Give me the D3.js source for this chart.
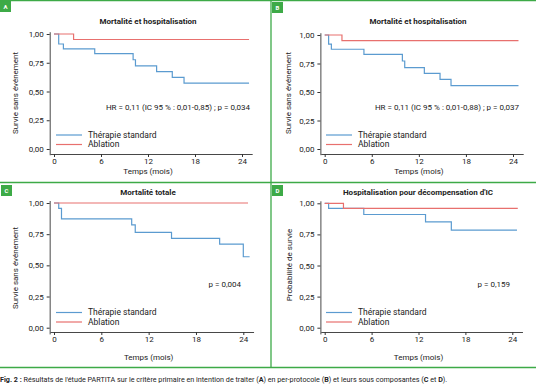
<!DOCTYPE html>
<html>
<head>
<meta charset="utf-8">
<script src="https://d3js.org/d3.v7.min.js"></script>
<style type="text/css">
  body { margin: 0; background: #fff; }
  svg text { font-family: "Liberation Sans Narrow", Roboto, sans-serif; fill: #222; }
  .tick text { font-size: 8px; }
  .tick line, .domain { stroke: #333; }
</style>
</head>
<body>
<svg id="fig" width="536" height="386"></svg>
<script>
// survival data (time in months, survival probability)
var months = [0, 6, 12, 18, 24];
var yTicks = [0, 0.25, 0.5, 0.75, 1];

var stdA_t = [0, 0.6, 1.2, 5.2, 10.1, 10.4, 13.1, 15.1, 16.6, 24.9];
var stdA_s = [1, 0.913, 0.870, 0.830, 0.776, 0.722, 0.672, 0.623, 0.572, 0.572];
var ablA_t = [0, 2.5, 24.9];
var ablA_s = [1, 0.952, 0.952];

var stdB_t = [0, 0.5, 0.85, 5.0, 9.9, 10.2, 12.7, 14.7, 16.1, 24.7];
var stdB_s = [1, 0.92, 0.875, 0.83, 0.772, 0.713, 0.664, 0.611, 0.556, 0.556];
var ablB_t = [0, 2.2, 24.7];
var ablB_s = [1, 0.95, 0.95];

var stdC_t = [0, 0.6, 0.95, 9.85, 10.3, 14.9, 21.0, 24.0, 24.8];
var stdC_s = [1, 0.957, 0.872, 0.824, 0.765, 0.717, 0.671, 0.569, 0.569];
var ablC_t = [0, 24.6];
var ablC_s = [1, 1];

var stdD_t = [0, 0.5, 5.0, 12.9, 16.2, 24.6];
var stdD_s = [1, 0.96, 0.91, 0.85, 0.784, 0.784];
var ablD_t = [0, 2.4, 24.7];
var ablD_s = [1, 0.96, 0.96];

var titles = ["Mortalité et hospitalisation", "Mortalité et hospitalisation",
              "Mortalité totale", "Hospitalisation pour décompensation d'IC"];
var yLabels = ["Survie sans événement", "Survie sans événement",
               "Survie sans événement", "Probabilité de survie"];
var stats = ["HR = 0,11 (IC 95 % : 0,01-0,85) ; p = 0,034",
             "HR = 0,11 (IC 95 % : 0,01-0,88) ; p = 0,037",
             "p = 0,004", "p = 0,159"];
var badges = ["A", "B", "C", "D"];
var seriesNames = ["Thérapie standard", "Ablation"];

var blue = "#5b9bd0", red = "#e8706e", green = "#3daa47";

// layout for each panel
var panels = [
  {x0: 54, x24: 242, y1: 34, y0: 149, xAxY: 154, tx: 148, ty: 24, ylx: 15, yly: 93, xly: 173.5,
   lx: 56, ly: 135, sx: 250, sy: 110, bx: 0, by: 1,
   std: [stdA_t, stdA_s], abl: [ablA_t, ablA_s]},
  {x0: 324.7, x24: 513, y1: 35, y0: 149, xAxY: 154, tx: 418, ty: 24, ylx: 288, yly: 93, xly: 173.5,
   lx: 326, ly: 135, sx: 519, sy: 110, bx: 272, by: 2,
   std: [stdB_t, stdB_s], abl: [ablB_t, ablB_s]},
  {x0: 54, x24: 243.3, y1: 203, y0: 327.7, xAxY: 332, tx: 148, ty: 195, ylx: 15, yly: 268, xly: 360,
   lx: 56, ly: 312.5, sx: 241, sy: 287, bx: 1, by: 185,
   std: [stdC_t, stdC_s], abl: [ablC_t, ablC_s]},
  {x0: 324.7, x24: 512.3, y1: 203.3, y0: 327.7, xAxY: 332, tx: 418, ty: 195, ylx: 289, yly: 265, xly: 360,
   lx: 326, ly: 312.5, sx: 510, sy: 287, bx: 272, by: 185,
   std: [stdD_t, stdD_s], abl: [ablD_t, ablD_s]}
];

var svg = d3.select("#fig");
var fmt = d3.format(".2f");

panels.forEach(function(p, i) {
  var g = svg.append("g");
  var xs = d3.scaleLinear().domain([0, 24]).range([p.x0, p.x24]);
  var ys = d3.scaleLinear().domain([0, 1]).range([p.y0, p.y1]);
  var xAx = d3.scaleLinear().domain([-0.5, 25.3]).range([xs(-0.5), xs(25.3)]);
  var yAx = d3.scaleLinear().domain([-0.05, 1.02]).range([ys(-0.05), ys(1.02)]);
  var yAxX = xs(-0.55);

  g.append("g").attr("transform", "translate(0," + p.xAxY + ")")
    .call(d3.axisBottom(xAx).tickValues(months).tickSize(3).tickSizeOuter(0).tickPadding(1));
  g.append("g").attr("transform", "translate(" + yAxX + ",0)")
    .call(d3.axisLeft(yAx).tickValues(yTicks).tickSize(3).tickSizeOuter(0).tickPadding(3)
      .tickFormat(function(d) { return fmt(d).replace(".", ","); }));
  g.selectAll(".domain").attr("stroke-width", 0.9);

  var line = d3.line().curve(d3.curveStepAfter)
    .x(function(d) { return xs(d[0]); }).y(function(d) { return ys(d[1]); });
  [[p.std, blue], [p.abl, red]].forEach(function(s) {
    var pts = d3.zip(s[0][0], s[0][1]);
    g.append("path").attr("d", line(pts)).attr("fill", "none")
      .attr("stroke", s[1]).attr("stroke-width", 1.2);
  });

  g.append("text").attr("x", p.tx).attr("y", p.ty).attr("text-anchor", "middle")
    .attr("font-size", 8).attr("font-weight", "bold").text(titles[i]);
  g.append("text").attr("transform", "translate(" + p.ylx + "," + p.yly + ") rotate(-90)")
    .attr("text-anchor", "middle").attr("dy", "0.35em").attr("font-size", 8).text(yLabels[i]);
  g.append("text").attr("x", (xs(0) + xs(24)) / 2).attr("y", p.xly).attr("text-anchor", "middle")
    .attr("font-size", 8).text("Temps (mois)");
  g.append("text").attr("x", p.sx).attr("y", p.sy).attr("text-anchor", "end")
    .attr("font-size", 8).text(stats[i]);

  [blue, red].forEach(function(c, k) {
    var yy = p.ly + k * 9.5;
    g.append("line").attr("x1", p.lx).attr("x2", p.lx + 26).attr("y1", yy).attr("y2", yy)
      .attr("stroke", c).attr("stroke-width", 1.2);
    g.append("text").attr("x", p.lx + 32).attr("y", yy).attr("dy", "0.33em")
      .attr("font-size", 8.5).text(seriesNames[k]);
  });

  g.append("rect").attr("x", p.bx).attr("y", p.by).attr("width", 11).attr("height", 11).attr("fill", green);
  g.append("text").attr("x", p.bx + 5.5).attr("y", p.by + 8).attr("text-anchor", "middle")
    .attr("font-size", 6).attr("font-weight", "bold").style("fill", "#fff").text(badges[i]);
});

// frame lines
var frame = [[0, 0.5, 536, 0.5], [0, 182.5, 536, 182.5], [0, 367.5, 536, 367.5], [271, 0, 271, 367.5]];
svg.selectAll("line.frame").data(frame).enter().append("line").attr("class", "frame")
  .attr("x1", function(d) { return d[0]; }).attr("y1", function(d) { return d[1]; })
  .attr("x2", function(d) { return d[2]; }).attr("y2", function(d) { return d[3]; })
  .attr("stroke", green).attr("stroke-width", 1.3);

// caption
var cap = svg.append("text").attr("x", 0).attr("y", 382).attr("font-size", 7.2);
cap.append("tspan").attr("font-weight", "bold").text("Fig. 2 : ");
cap.append("tspan").text("Résultats de l'étude PARTITA sur le critère primaire en intention de traiter (");
cap.append("tspan").attr("font-weight", "bold").text("A");
cap.append("tspan").text(") en per-protocole (");
cap.append("tspan").attr("font-weight", "bold").text("B");
cap.append("tspan").text(") et leurs sous composantes (");
cap.append("tspan").attr("font-weight", "bold").text("C");
cap.append("tspan").text(" et ");
cap.append("tspan").attr("font-weight", "bold").text("D");
cap.append("tspan").text(").");
</script>
</body>
</html>
